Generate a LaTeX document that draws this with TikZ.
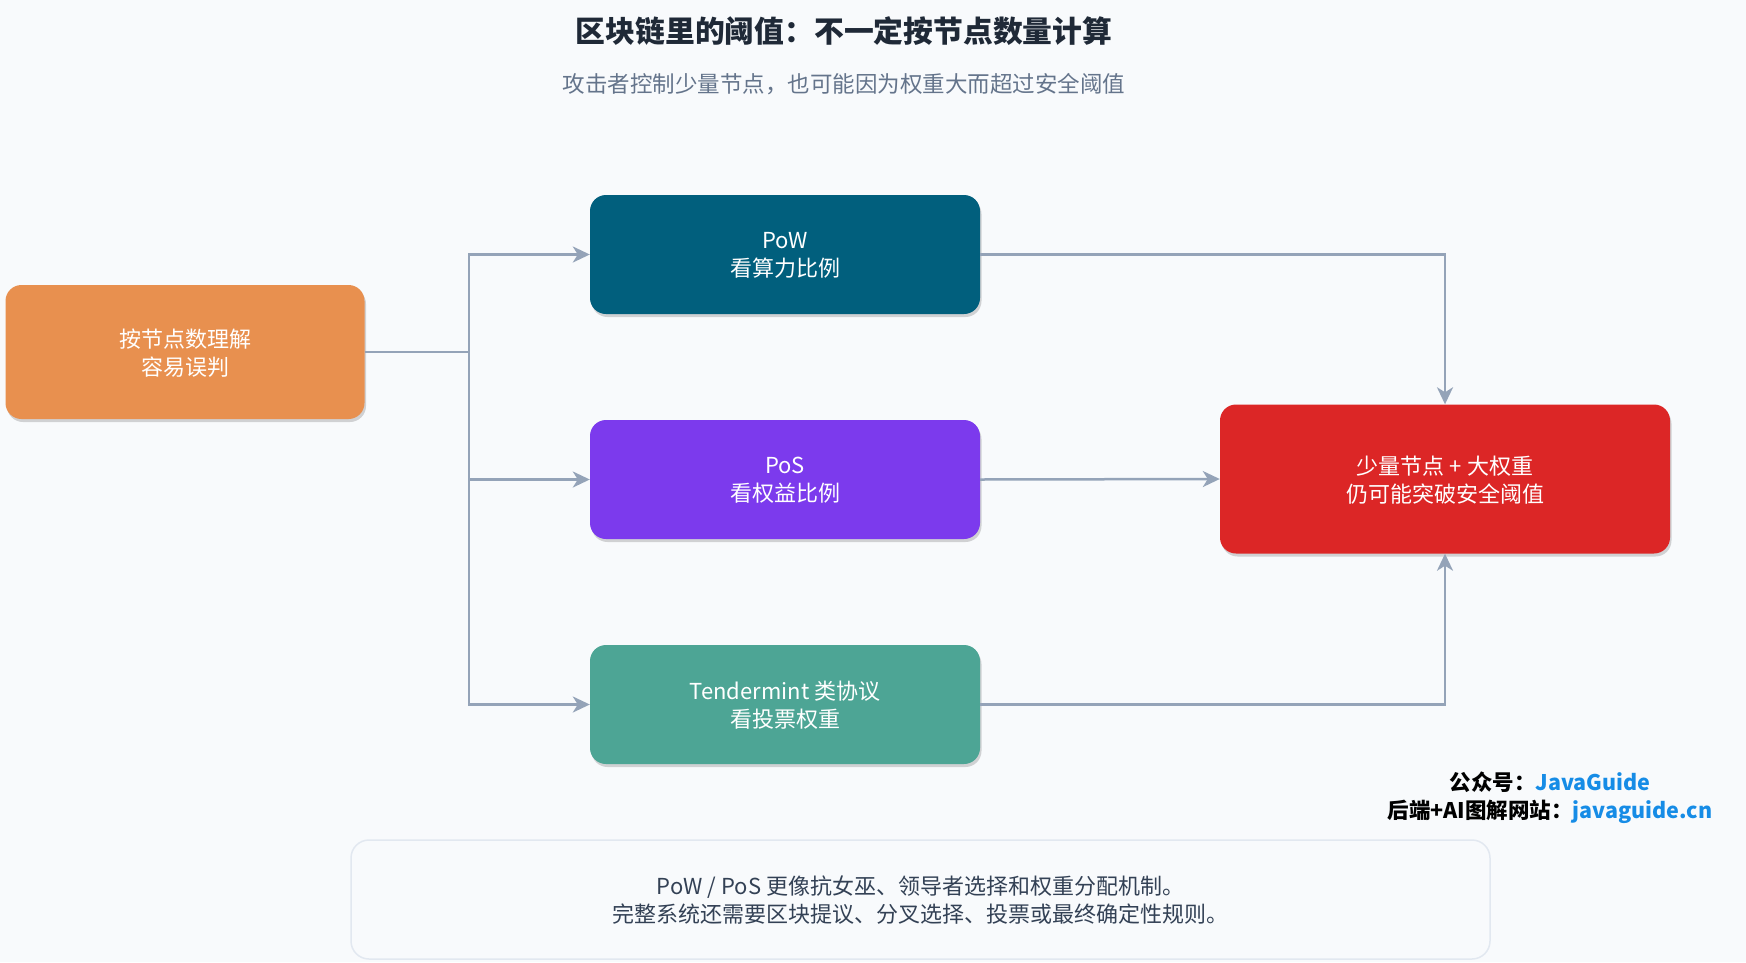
\documentclass[tikz,border=0pt]{standalone}
\usepackage{fontspec}
\setmainfont{Noto Sans CJK SC}
\usetikzlibrary{arrows.meta,shadows}
\definecolor{bgcol}{HTML}{F8FAFC}
\definecolor{linkgray}{HTML}{94A3B8}
\definecolor{titlecol}{HTML}{1F2937}
\definecolor{subcol}{HTML}{64748B}
\definecolor{notecol}{HTML}{334155}
\definecolor{noteline}{HTML}{E2E8F0}
\definecolor{misorange}{HTML}{E8904F}
\definecolor{powteal}{HTML}{015F7D}
\definecolor{posviolet}{HTML}{7C3AED}
\definecolor{tendgreen}{HTML}{4DA595}
\definecolor{riskred}{HTML}{DC2626}
\definecolor{guideblue}{HTML}{168CE6}
\tikzset{
  box/.style={rounded corners=16pt, text=white, align=center, inner sep=0pt,
    font=\fontsize{22}{28}\selectfont, text depth=-5pt,
    execute at begin node={\rule{0pt}{24pt}},
    drop shadow={shadow xshift=1.5pt, shadow yshift=-3pt, fill=black, opacity=.16}},
  link/.style={draw=linkgray, line width=2.5pt,
    -{Stealth[length=17pt, width=16pt, inset=5pt]}}
}
\begin{document}
\begin{tikzpicture}[x=1pt, y=-1pt]
  \fill[bgcol] (0,0) rectangle (1746,962);
  \useasboundingbox (0,0) rectangle (1746,962);
  % title
  \node (title) at (844,31) [text=titlecol, font=\fontsize{29.8}{34}\selectfont\bfseries]
    {区块链里的阈值：不一定按节点数量计算};
  \node (subtitle) at (844,84) [text=subcol, font=\fontsize{22.5}{26}\selectfont]
    {攻击者控制少量节点，也可能因为权重大而超过安全阈值};
  % boxes
  \node (mis) at (185,352) [box, fill=misorange, minimum width=359pt, minimum height=134pt]
    {按节点数理解\\容易误判};
  \node (pow) at (785,254.5) [box, fill=powteal, minimum width=390pt, minimum height=119pt]
    {PoW\\看算力比例};
  \node (pos) at (785,479.5) [box, fill=posviolet, minimum width=390pt, minimum height=119pt]
    {PoS\\看权益比例};
  \node (tend) at (785,704.5) [box, fill=tendgreen, minimum width=390pt, minimum height=119pt]
    {Tendermint 类协议\\看投票权重};
  \node (risk) at (1445,479) [box, fill=riskred, minimum width=450pt, minimum height=149pt]
    {少量节点 + 大权重\\仍可能突破安全阈值};
  \coordinate (fork) at (469,352);
  % connectors
  \draw[draw=linkgray, line width=2.5pt] (mis.east) -- (fork);
  \begin{scope}[link]
    \draw (fork) |- (pow);
    \draw (fork) |- (pos);
    \draw (fork) |- (tend);
    \draw (pow) -| (risk);
    \draw (pos.east) -- (risk.west);
    \draw (tend) -| (risk);
  \end{scope}
  % watermark
  \node (mark) at (1550,798) [align=center, font=\fontsize{21.5}{28}\selectfont\bfseries]
    {公众号：\textcolor{guideblue}{JavaGuide}\\后端+AI图解网站：\textcolor{guideblue}{javaguide.cn}};
  % note
  \node (note) at (920.5,899.5) [draw=noteline, line width=1.5pt, fill=bgcol, rounded corners=18pt,
    minimum width=1139pt, minimum height=119pt, align=center, text=notecol,
    font=\fontsize{22}{28}\selectfont, text depth=-5pt, execute at begin node={\rule{0pt}{24pt}}]
    {PoW / PoS 更像抗女巫、领导者选择和权重分配机制。\\完整系统还需要区块提议、分叉选择、投票或最终确定性规则。};
\end{tikzpicture}
\end{document}
